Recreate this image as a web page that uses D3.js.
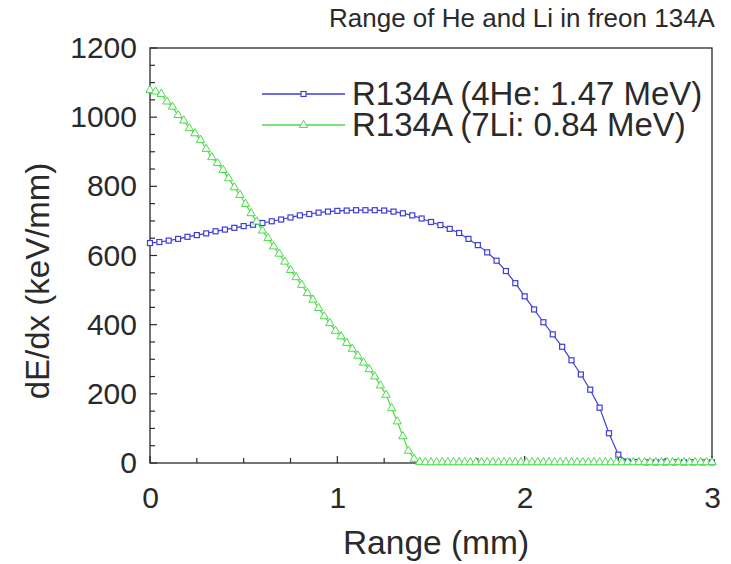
<!DOCTYPE html>
<html>
<head>
<meta charset="utf-8">
<script src="https://cdn.jsdelivr.net/npm/d3@7/dist/d3.min.js"></script>
<style>
  html, body { margin: 0; padding: 0; background: #fff; }
  svg { display: block; font-family: "Liberation Sans", Arial, sans-serif; }
</style>
</head>
<body>
<svg id="chart" width="731" height="564"></svg>
<script>
// ---- data ----
const chartTitle = "Range of He and Li in freon 134A";
const xTitle = "Range (mm)";
const yTitle = "dE/dx (keV/mm)";
const seriesNames = ["R134A (4He: 1.47 MeV)", "R134A (7Li: 0.84 MeV)"];
const xTicks = [0, 1, 2, 3];
const yTicks = [0, 200, 400, 600, 800, 1000, 1200];

const heRange = [0,0.05,0.10,0.15,0.20,0.25,0.30,0.35,0.40,0.45,0.50,0.55,0.60,0.65,0.70,0.75,0.80,0.85,0.90,0.95,
  1.00,1.05,1.10,1.15,1.20,1.25,1.30,1.35,1.40,1.45,1.50,1.55,1.60,1.65,1.70,1.75,1.80,1.85,1.90,1.95,
  2.00,2.05,2.10,2.15,2.20,2.25,2.30,2.35,2.40,2.45,2.50,2.55,2.60,2.65,2.70,2.75,2.80,2.85,2.90,2.95,3.00];
const heDedx = [636,639,643,648,654,659,664,670,675,680,685,689,694,699,704,710,716,720,724,727,
  729,730,731,731,731,730,727,722,716,707,697,688,677,665,648,630,609,585,555,520,
  482,444,407,372,336,297,256,212,160,86,24,4,3,2,2,2,2,2,2,2,2];

const liRange = [0,0.03,0.06,0.09,0.12,0.15,0.18,0.21,0.24,0.27,0.30,0.33,0.36,0.39,0.42,0.45,0.48,0.51,0.54,0.57,
  0.60,0.63,0.66,0.69,0.72,0.75,0.78,0.81,0.84,0.87,0.90,0.93,0.96,0.99,1.02,1.05,1.08,1.11,1.14,1.17,
  1.20,1.23,1.26,1.29,1.32,1.35,1.38,1.41,1.44,1.47,1.50,1.53,1.56,1.59,1.62,1.65,1.68,1.71,1.74,1.77,
  1.80,1.83,1.86,1.89,1.92,1.95,1.98,2.01,2.04,2.07,2.10,2.13,2.16,2.19,2.22,2.25,2.28,2.31,2.34,2.37,
  2.40,2.43,2.46,2.49,2.52,2.55,2.58,2.61,2.64,2.67,2.70,2.73,2.76,2.79,2.82,2.85,2.88,2.91,2.94,2.97,3.00];
const liDedx = [1078,1074,1067,1045,1030,1006,990,968,953,934,908,884,867,847,823,797,775,749,722,698,
  672,650,626,605,582,558,537,515,491,472,448,424,404,382,366,347,330,310,290,271,
  250,224,197,158,120,77,35,12,3,2,2,2,2,2,2,2,2,2,2,2,
  2,2,2,2,2,2,2,2,2,2,2,2,2,2,2,2,2,2,2,2,
  2,2,2,2,2,2,2,2,2,2,2,2,2,2,2,2,2,2,2,2,2];

// ---- layout ----
const plot = { left: 150, right: 712, top: 48, bottom: 463 };
const blue = "#3e3ed6", green = "#48dc48", ink = "#2a2a2a";
const FONT = "Liberation Sans, Arial, sans-serif";

const svg = d3.select("#chart");
const x = d3.scaleLinear().domain([0, 3]).range([plot.left, plot.right]);
const y = d3.scaleLinear().domain([0, 1200]).range([plot.bottom, plot.top]);

// frame
svg.append("rect")
  .attr("x", plot.left).attr("y", plot.top)
  .attr("width", plot.right - plot.left).attr("height", plot.bottom - plot.top)
  .attr("fill", "none").attr("stroke", ink).attr("stroke-width", 1.3);

// bottom axis (ticks inward)
const xAxis = d3.axisBottom(x).tickValues(xTicks).tickSize(0).tickPadding(24).tickFormat(d3.format("d"));
const gx = svg.append("g").attr("transform", `translate(0,${plot.bottom})`).call(xAxis);
gx.select(".domain").remove();
gx.selectAll("text").attr("font-size", 30).attr("fill", ink).attr("font-family", FONT);
svg.append("g").selectAll("line").data(d3.range(0, 13).map(i => i * 0.25))
  .join("line")
  .attr("x1", d => x(d)).attr("x2", d => x(d))
  .attr("y1", plot.bottom).attr("y2", d => plot.bottom - (Number.isInteger(d) ? 7 : 5))
  .attr("stroke", ink).attr("stroke-width", 1.2);

// left axis
const yAxis = d3.axisLeft(y).tickValues(yTicks).tickSize(0).tickPadding(13).tickFormat(d3.format("d"));
const gy = svg.append("g").attr("transform", `translate(${plot.left},0)`).call(yAxis);
gy.select(".domain").remove();
gy.selectAll("text").attr("font-size", 30).attr("fill", ink).attr("font-family", FONT);
svg.append("g").selectAll("line").data(d3.range(0, 25).map(i => i * 50))
  .join("line")
  .attr("x1", plot.left).attr("x2", d => plot.left + (d % 200 === 0 ? 7 : 5))
  .attr("y1", d => y(d)).attr("y2", d => y(d))
  .attr("stroke", ink).attr("stroke-width", 1.2);

// titles
svg.append("text").attr("x", 329).attr("y", 27).attr("font-size", 26).attr("fill", ink).text(chartTitle);
svg.append("text").attr("x", 436).attr("y", 554)
  .attr("text-anchor", "middle").attr("font-size", 33.5).attr("fill", ink).text(xTitle);
svg.append("text").attr("transform", "translate(49,281) rotate(-90)")
  .attr("text-anchor", "middle").attr("font-size", 33).attr("fill", ink).text(yTitle);

// series
const line = d3.line().x(d => x(d[0])).y(d => y(d[1]));
const he = heRange.map((r, i) => [r, heDedx[i]]);
const li = liRange.map((r, i) => [r, liDedx[i]]);
const tri = d3.symbol().type(d3.symbolTriangle).size(30);

function drawSeries(data, color, marker) {
  const g = svg.append("g");
  g.append("path").datum(data).attr("d", line)
    .attr("fill", "none").attr("stroke", color).attr("stroke-width", 1.2);
  if (marker === "square") {
    g.selectAll("rect").data(data).join("rect")
      .attr("x", d => x(d[0]) - 2.5).attr("y", d => y(d[1]) - 2.5)
      .attr("width", 5).attr("height", 5)
      .attr("fill", "#fff").attr("stroke", color).attr("stroke-width", 1.2);
  } else {
    g.selectAll("path.m").data(data).join("path").attr("class", "m")
      .attr("d", tri).attr("transform", d => `translate(${x(d[0])},${y(d[1])})`)
      .attr("fill", "#fff").attr("stroke", color).attr("stroke-width", 1);
  }
}
drawSeries(he, blue, "square");
drawSeries(li, green, "triangle");

// legend
const legend = [
  { name: seriesNames[0], color: blue, marker: "square", y: 94 },
  { name: seriesNames[1], color: green, marker: "triangle", y: 125 }
];
legend.forEach(L => {
  svg.append("line").attr("x1", 262).attr("x2", 345).attr("y1", L.y).attr("y2", L.y)
    .attr("stroke", L.color).attr("stroke-width", 1.3);
  if (L.marker === "square") {
    svg.append("rect").attr("x", 301).attr("y", L.y - 2.5).attr("width", 5).attr("height", 5)
      .attr("fill", "#fff").attr("stroke", L.color).attr("stroke-width", 1.2);
  } else {
    svg.append("path").attr("d", tri).attr("transform", `translate(303.5,${L.y})`)
      .attr("fill", "#fff").attr("stroke", L.color).attr("stroke-width", 1);
  }
  svg.append("text").attr("x", 352).attr("y", L.y + 11).attr("font-size", 33).attr("fill", ink).text(L.name);
});
</script>
</body>
</html>
